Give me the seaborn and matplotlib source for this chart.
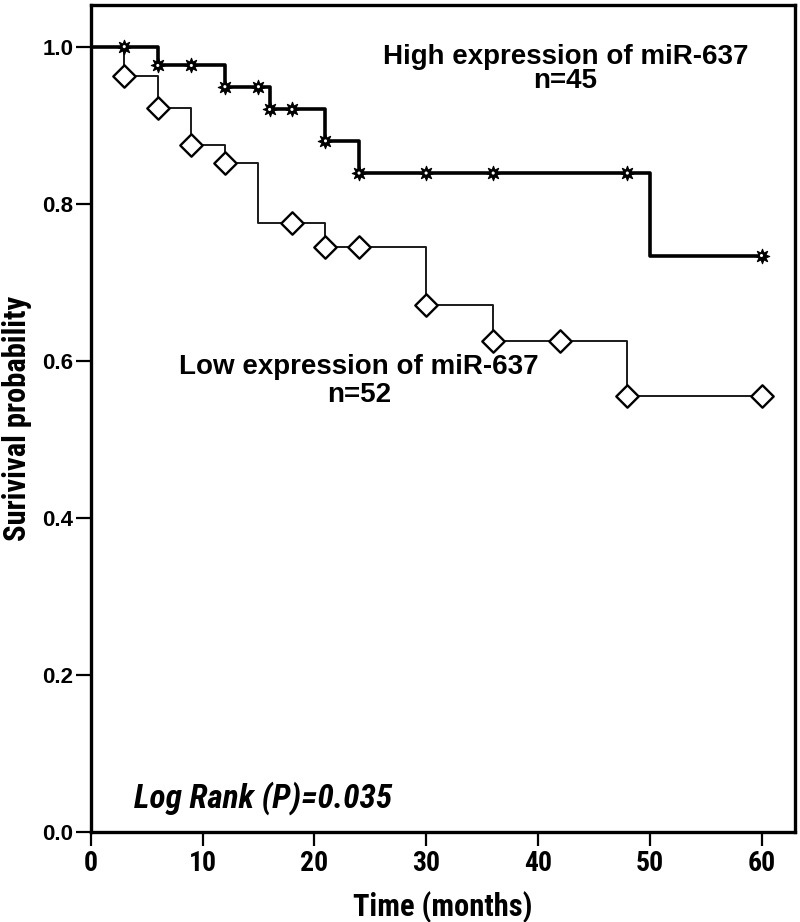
import numpy as np
import pandas as pd
import matplotlib
matplotlib.use("Agg")
import matplotlib.pyplot as plt
from matplotlib import font_manager as fm
import seaborn as sns

# ---- data ----
high_times = [0, 6, 12, 16, 21, 24, 50, 60]
high_surv = [1.0, 0.976, 0.949, 0.920, 0.880, 0.839, 0.734, 0.734]
high_censor = [3, 6, 9, 12, 15, 16, 18, 21, 24, 30, 36, 48, 60]

low_times = [0, 3, 6, 9, 12, 15, 21, 30, 36, 48, 60]
low_surv = [1.0, 0.962, 0.922, 0.875, 0.852, 0.775, 0.745, 0.671, 0.625, 0.555, 0.555]
low_censor = [3, 6, 9, 12, 18, 21, 24, 30, 36, 42, 48, 60]

x_ticks = [0, 10, 20, 30, 40, 50, 60]
y_ticks = [0.0, 0.2, 0.4, 0.6, 0.8, 1.0]
y_ticklabels = ["0.0", "0.2", "0.4", "0.6", "0.8", "1.0"]


def step_value(times, surv, t):
    idx = np.searchsorted(times, t, side="right") - 1
    return np.asarray(surv)[idx]


def pick_narrow():
    entries = fm.fontManager.ttflist
    names = {f.name for f in entries}
    for cand in ["Liberation Sans Narrow", "Roboto Condensed",
                 "Open Sans Condensed", "Noto Sans Condensed"]:
        if cand in names:
            return cand, "normal", True
    for f in entries:
        if f.name == "DejaVu Sans" and str(f.stretch) in ("condensed", "semi-condensed"):
            return "DejaVu Sans", "condensed", True
    for f in entries:
        if "Condensed" in f.name or "Narrow" in f.name:
            return f.name, "normal", True
    return "Liberation Sans", "normal", False


narrow, narrow_stretch, narrow_ok = pick_narrow()
nscale = 1.0 if narrow_ok else 0.86

high_df = pd.DataFrame({"t": high_times, "s": high_surv})
low_df = pd.DataFrame({"t": low_times, "s": low_surv})
high_c = pd.DataFrame({"t": high_censor,
                       "s": step_value(high_times, high_surv, high_censor)})
low_c = pd.DataFrame({"t": low_censor,
                      "s": step_value(low_times, low_surv, low_censor)})

sns.set_style("ticks")
plt.rcParams["font.family"] = ["Liberation Sans", "DejaVu Sans"]
plt.rcParams["text.color"] = "black"
plt.rcParams["axes.labelcolor"] = "black"
plt.rcParams["xtick.color"] = "black"
plt.rcParams["ytick.color"] = "black"

fig = plt.figure(figsize=(8, 9.22), dpi=100)
ax = fig.add_axes([0.1134, 0.0976, 0.8804, 0.897])

# low expression curve
sns.lineplot(data=low_df, x="t", y="s", ax=ax, drawstyle="steps-post",
             color="#1a1a1a", linewidth=1.4, estimator=None, sort=True)
sns.scatterplot(data=low_c, x="t", y="s", ax=ax, marker="D", s=130,
                facecolor="white", edgecolor="black", linewidth=1.7, zorder=4)

# high expression curve
sns.lineplot(data=high_df, x="t", y="s", ax=ax, drawstyle="steps-post",
             color="black", linewidth=2.6, estimator=None, sort=True)
sns.scatterplot(data=high_c, x="t", y="s", ax=ax, marker=(8, 1, 0), s=110,
                color="black", edgecolor="black", linewidth=0.8, zorder=5)
sns.scatterplot(data=high_c, x="t", y="s", ax=ax, marker="o", s=5,
                color="white", edgecolor="none", linewidth=0, zorder=6)

ax.set_xlim(0, 63)
ax.set_ylim(0, 1.053)
ax.set_xticks(x_ticks)
ax.set_yticks(y_ticks)
ax.set_yticklabels(y_ticklabels)

for lab in ax.get_xticklabels():
    lab.set_fontfamily(narrow)
    lab.set_fontstretch(narrow_stretch)
    lab.set_fontweight("bold")
    lab.set_fontsize(20 * nscale)
    lab.set_color("black")
for lab in ax.get_yticklabels():
    lab.set_fontfamily("Liberation Sans")
    lab.set_fontweight("bold")
    lab.set_fontsize(16)
    lab.set_color("black")

ax.tick_params(axis="x", length=10, width=1.6, direction="out", pad=3,
               color="black", labelcolor="black")
ax.tick_params(axis="y", length=11, width=1.6, direction="out", pad=1.5,
               color="black", labelcolor="black")

for sp in ax.spines.values():
    sp.set_visible(True)
    sp.set_linewidth(2.4)
    sp.set_color("black")

ax.set_xlabel("Time (months)", fontfamily=narrow, fontstretch=narrow_stretch,
              fontweight="bold", fontsize=22 * nscale, color="black")
ax.set_ylabel("Surivival probability", fontfamily=narrow, fontstretch=narrow_stretch,
              fontweight="bold", fontsize=22 * nscale, color="black")
ax.xaxis.set_label_coords(0.5, -0.072)
ax.yaxis.set_label_coords(-0.083, 0.5)

txt = dict(fontfamily="Liberation Sans", fontweight="bold", fontsize=20,
           ha="center", va="center", color="black")
ax.text(42.45, 0.987, "High expression of miR-637", **txt)
ax.text(42.45, 0.956, "n=45", **txt)
ax.text(24.0, 0.592, "Low expression of miR-637", **txt)
ax.text(24.0, 0.556, "n=52", **txt)

ax.text(3.84, 0.0434, "Log Rank (P)=0.035", fontfamily=narrow,
        fontstretch=narrow_stretch, fontweight="bold", fontstyle="italic",
        fontsize=24 * nscale, ha="left", va="center", color="black")

fig.savefig("out.png", dpi=100)
